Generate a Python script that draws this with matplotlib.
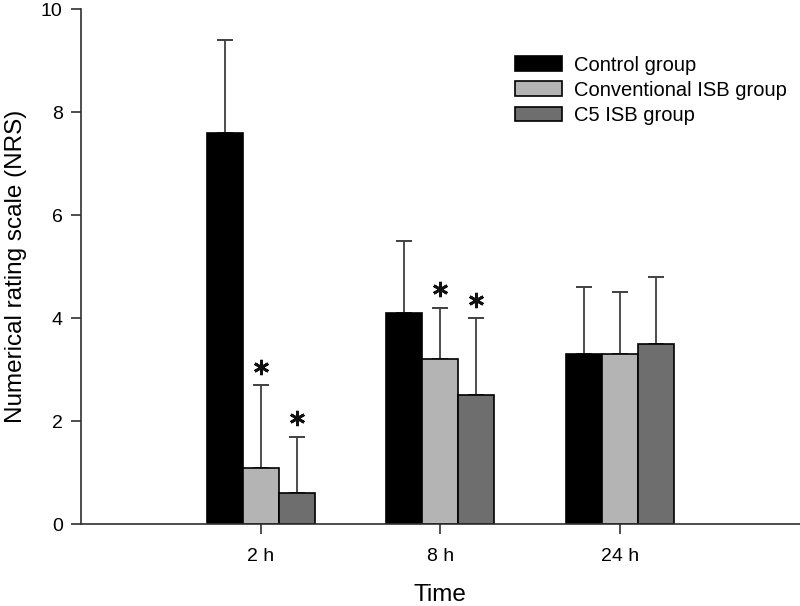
import matplotlib
matplotlib.use("Agg")
from matplotlib import pyplot as plt
import numpy as np

plt.rcParams['font.family'] = ['Liberation Sans', 'DejaVu Sans']

times = ['2 h', '8 h', '24 h']
groups = ['Control group', 'Conventional ISB group', 'C5 ISB group']
means = [
    [7.6, 4.1, 3.3],
    [1.1, 3.2, 3.3],
    [0.6, 2.5, 3.5],
]
sds = [
    [1.8, 1.4, 1.3],
    [1.6, 1.0, 1.2],
    [1.1, 1.5, 1.3],
]
# significant vs control: (group index, time index)
signif = [(1, 0), (2, 0), (1, 1), (2, 1)]
colors = ['#000000', '#b4b4b4', '#6e6e6e']

fig = plt.figure(figsize=(8, 6.06), dpi=100)
ax = fig.add_axes([0.101, 0.135, 0.899, 0.85])

x = np.arange(1, len(times) + 1)
w = 0.2
for i, g in enumerate(groups):
    pos = x + (i - 1) * w
    ax.bar(pos, means[i], width=w, color=colors[i], edgecolor='black',
           linewidth=1.2, label=g, zorder=2)
    ax.errorbar(pos, means[i], yerr=[np.zeros(len(times)), sds[i]], fmt='none',
                ecolor='#404040', elinewidth=1.3, capsize=6, capthick=1.4, zorder=1)

# asterisks just above the error bar caps
sx = [x[ti] + (gi - 1) * w for gi, ti in signif]
sy = [means[gi][ti] + sds[gi][ti] + 0.36 for gi, ti in signif]
ax.plot(sx, sy, linestyle='none', marker=(6, 2, 0), markersize=11,
        markeredgewidth=2.0, color='#111111', zorder=3)

ax.set_xlim(0, 4)
ax.set_ylim(0, 10)
ax.set_xticks(x)
ax.set_xticklabels(times)
ax.set_yticks([0, 2, 4, 6, 8, 10])
ax.spines['top'].set_visible(False)
ax.spines['right'].set_visible(False)
for s in ['left', 'bottom']:
    ax.spines[s].set_color('#303030')
    ax.spines[s].set_linewidth(1.2)
ax.tick_params(axis='both', labelsize=14, length=7, width=1.2, color='#303030')
ax.tick_params(axis='x', pad=10)
ax.tick_params(axis='y', pad=6)
ax.set_xlabel('Time', fontsize=17.5, labelpad=14)
ax.set_ylabel('Numerical rating scale (NRS)', fontsize=17.5, labelpad=10)

ax.legend(loc='upper left', bbox_to_anchor=(0.579, 0.945), frameon=False, fontsize=14.5,
          handlelength=2.3, handleheight=0.7, labelspacing=0.3, handletextpad=0.6)

fig.savefig('out.png', dpi=100)
